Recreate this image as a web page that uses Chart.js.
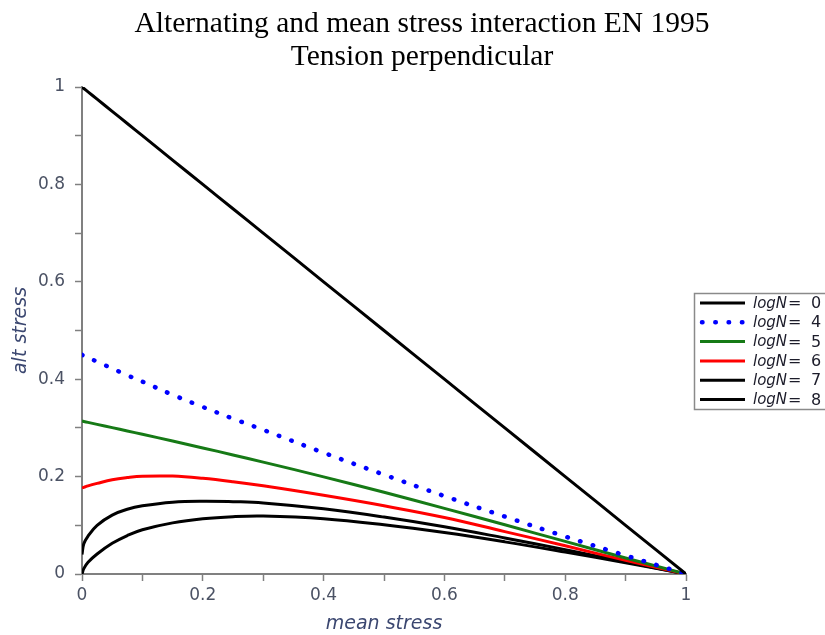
<!DOCTYPE html>
<html>
<head>
<meta charset="utf-8">
<script src="https://cdn.jsdelivr.net/npm/chart.js@4"></script>
<style>
  html, body { margin: 0; padding: 0; background: #fff; }
  #wrap { width: 825px; height: 635px; }
</style>
</head>
<body>
<div id="wrap"><canvas id="chart" width="825" height="635"></canvas></div>
<script>
// chart text
const titleLines = ['Alternating and mean stress interaction EN 1995', 'Tension perpendicular'];
const xTitle = 'mean stress';
const yTitle = 'alt stress';
const seriesNames = ['0', '4', '5', '6', '7', '8']; // logN values

// mean stress sample points (shared by every curve)
const meanStress = [0, 0.003, 0.01, 0.025, 0.05, 0.075, 0.1, 0.15, 0.2, 0.25, 0.3, 0.4, 0.5, 0.6, 0.7, 0.8, 0.9, 1];

// alternating stress
const logN0 = [1, 0.997, 0.99, 0.975, 0.95, 0.925, 0.9, 0.85, 0.8, 0.75, 0.7, 0.6, 0.5, 0.4, 0.3, 0.2, 0.1, 0];
const logN4 = [0.45, 0.448, 0.444, 0.436, 0.422, 0.408, 0.395, 0.368, 0.343, 0.319, 0.296, 0.249, 0.204, 0.160, 0.118, 0.077, 0.038, 0];
const logN5 = [0.314, 0.3132, 0.3113, 0.3073, 0.3006, 0.2938, 0.2869, 0.273, 0.2589, 0.2445, 0.2298, 0.1995, 0.1678, 0.1348, 0.101, 0.067, 0.033, 0];
const logN6 = [0.177, 0.178, 0.181, 0.186, 0.1935, 0.198, 0.2008, 0.201, 0.1965, 0.1895, 0.181, 0.1615, 0.140, 0.116, 0.087, 0.058, 0.028, 0];
const logN7 = [0.040, 0.062, 0.078, 0.100, 0.121, 0.133, 0.140, 0.1475, 0.1495, 0.1485, 0.146, 0.134, 0.117, 0.097, 0.074, 0.050, 0.025, 0];
const logN8 = [0, 0.011, 0.024, 0.041, 0.063, 0.079, 0.091, 0.105, 0.1135, 0.1178, 0.119, 0.1135, 0.101, 0.085, 0.066, 0.045, 0.023, 0];

const allSeries = [logN0, logN4, logN5, logN6, logN7, logN8];
const colors = ['#000000', '#0000ff', '#167a16', '#ff0000', '#000000', '#000000'];

const axisGrey = '#808080';
const tickText = '#4b5264';
const labelText = '#3b4770';

const toPoints = (ys) => meanStress.map((x, i) => ({x: x, y: ys[i]}));

const datasets = allSeries.map((ys, i) => {
    const dotted = seriesNames[i] === '4';
    return {
        label: 'logN = ' + seriesNames[i],
        data: toPoints(ys),
        borderColor: colors[i],
        borderWidth: dotted ? 4.5 : 3,
        borderDash: dotted ? [0.5, 12.8] : [],
        borderCapStyle: dotted ? 'round' : 'butt',
        borderJoinStyle: 'round',
        pointRadius: 0,
        fill: false,
        tension: 0.4,
    };
});

// title + boxed legend drawn on the canvas
const overlayPlugin = {
    id: 'overlay',
    afterDraw(chart) {
        const ctx = chart.ctx;
        ctx.save();
        ctx.fillStyle = '#000';
        ctx.font = '29.5px "Liberation Serif", "Times New Roman", serif';
        ctx.textAlign = 'center';
        ctx.textBaseline = 'alphabetic';
        ctx.fillText(titleLines[0], 422, 32);
        ctx.fillText(titleLines[1], 422, 65);

        // legend box
        ctx.lineWidth = 1.5;
        ctx.strokeStyle = '#8a8a8a';
        ctx.setLineDash([]);
        ctx.strokeRect(694.5, 293.5, 150, 116);

        chart.data.datasets.forEach((ds, i) => {
            const y = 303 + i * 19.3;
            ctx.beginPath();
            ctx.strokeStyle = ds.borderColor;
            ctx.lineWidth = ds.borderWidth;
            ctx.setLineDash(ds.borderDash);
            ctx.lineCap = ds.borderCapStyle;
            ctx.moveTo(ds.borderDash.length ? 702 : 700, y);
            ctx.lineTo(745, y);
            ctx.stroke();
            ctx.setLineDash([]);
            ctx.lineCap = 'butt';

            ctx.fillStyle = '#1c1c2a';
            ctx.textAlign = 'left';
            ctx.textBaseline = 'middle';
            ctx.font = 'italic 15px "DejaVu Sans", sans-serif';
            ctx.fillText('logN', 753, y + 1);
            ctx.font = '16px "DejaVu Sans", sans-serif';
            ctx.fillText('=', 788, y + 1);
            ctx.fillText(seriesNames[i], 811, y + 1);
        });
        ctx.restore();
    }
};

const tickLabel = (v) => {
    const k = Math.round(v * 10);
    return k % 2 === 0 ? String(k / 10) : '';
};

const axisCommon = {
    type: 'linear',
    min: 0,
    max: 1,
    border: {display: true, color: axisGrey, width: 2},
    grid: {display: true, drawOnChartArea: false, drawTicks: true, tickLength: 7, tickColor: axisGrey, tickWidth: 1.5},
};

new Chart(document.getElementById('chart'), {
    type: 'line',
    data: {datasets: datasets},
    plugins: [overlayPlugin],
    options: {
        responsive: false,
        animation: false,
        layout: {padding: {top: 87, right: 139, left: 0, bottom: 0}},
        plugins: {
            legend: {display: false},
            title: {display: false},
            tooltip: {enabled: false},
        },
        scales: {
            x: {
                ...axisCommon,
                ticks: {
                    stepSize: 0.1, autoSkip: false, maxRotation: 0, padding: 4,
                    color: tickText, font: {family: 'DejaVu Sans', size: 17},
                    callback: tickLabel,
                },
                title: {
                    display: true, text: xTitle, color: labelText,
                    font: {family: 'DejaVu Sans', size: 19, style: 'italic'},
                    padding: {top: 0, bottom: 0},
                },
                afterFit(scale) { scale.height = 61; },
            },
            y: {
                ...axisCommon,
                ticks: {
                    stepSize: 0.1, autoSkip: false, padding: 10,
                    color: tickText, font: {family: 'DejaVu Sans', size: 17},
                    callback: tickLabel,
                },
                title: {
                    display: true, text: yTitle, color: labelText,
                    font: {family: 'DejaVu Sans', size: 19, style: 'italic'},
                    padding: {top: 10, bottom: 0},
                },
                afterFit(scale) { scale.width = 82; },
            },
        },
    },
});
</script>
</body>
</html>
